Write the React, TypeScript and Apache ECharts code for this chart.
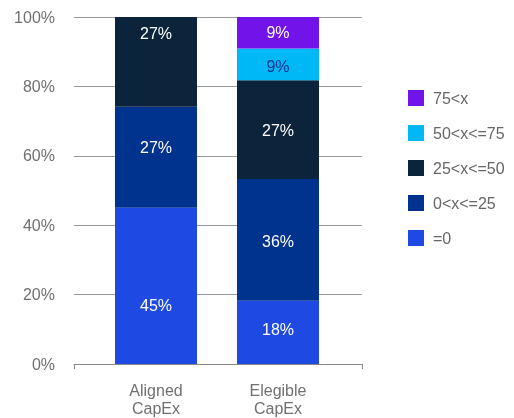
import React, { useEffect, useRef } from "react";
import * as echarts from "echarts";

const categories = ["Aligned\nCapEx", "Elegible\nCapEx"];
const seriesNames = ["=0", "0<x<=25", "25<x<=50", "50<x<=75", "75<x"];
const eq0 = [45.0, 18.2];
const le25 = [29.1, 35.1];
const le50 = [25.9, 28.5];
const le75 = [0, 9.1];
const gt75 = [0, 9.1];
const labelsEq0 = ["45%", "18%"];
const labelsLe25 = ["27%", "36%"];
const labelsLe50 = ["27%", "27%"];
const labelsLe75 = ["", "9%"];
const labelsGt75 = ["", "9%"];
const yTicks = [0, 20, 40, 60, 80, 100];

const colors = ["#1E49E2", "#00338D", "#0C233C", "#00B8F5", "#7213EA"];
const labelColors = ["#ffffff", "#ffffff", "#ffffff", "#00338D", "#ffffff"];
const labelShift = [
  [20, -3],
  [-10, 2],
  [-28, 1],
  [0, 2],
  [0, 0],
];

const FONT = "'Liberation Sans', Arial, Helvetica, sans-serif";

export default function App() {
  const ref = useRef<HTMLDivElement>(null);
  useEffect(() => {
    if (!ref.current) return;
    const chart = echarts.init(ref.current, null, { renderer: "svg" });
    const values = [eq0, le25, le50, le75, gt75];
    const labels = [labelsEq0, labelsLe25, labelsLe50, labelsLe75, labelsGt75];
    chart.setOption({
      animation: false,
      textStyle: { fontFamily: FONT },
      grid: [
        { left: 74, right: 152, top: 17, bottom: 54 },
        { left: 95, right: 175, top: 17, bottom: 54 },
      ],
      legend: {
        orient: "vertical",
        left: 408,
        top: 90,
        padding: 0,
        itemWidth: 16,
        itemHeight: 16,
        itemGap: 19,
        icon: "rect",
        data: [...seriesNames].reverse(),
        textStyle: {
          color: "#666",
          fontSize: 16,
          fontFamily: FONT,
          padding: [0, 0, 0, 4],
        },
      },
      xAxis: [
        {
          type: "category",
          gridIndex: 0,
          data: [""],
          axisLine: { show: true, lineStyle: { color: "#888", width: 1 } },
          axisTick: { show: true, length: 5, lineStyle: { color: "#888" } },
          axisLabel: { show: false },
          splitLine: { show: false },
        },
        {
          type: "category",
          gridIndex: 1,
          data: categories,
          axisLine: { show: false },
          axisTick: { show: false },
          axisLabel: {
            color: "#707070",
            fontSize: 16,
            lineHeight: 18,
            margin: 17,
            fontFamily: FONT,
          },
        },
      ],
      yAxis: [
        {
          type: "value",
          gridIndex: 0,
          min: yTicks[0],
          max: yTicks[yTicks.length - 1],
          interval: 20,
          axisLine: { show: false },
          axisTick: { show: false },
          axisLabel: {
            formatter: "{value}%",
            color: "#707070",
            fontSize: 16,
            margin: 19,
            fontFamily: FONT,
          },
          splitLine: { show: true, lineStyle: { color: "#999", width: 1 } },
        },
        {
          type: "value",
          gridIndex: 1,
          min: 0,
          max: 100,
          show: false,
          splitLine: { show: false },
        },
      ],
      series: seriesNames.map((name, s) => ({
        name,
        type: "bar",
        stack: "total",
        xAxisIndex: 1,
        yAxisIndex: 1,
        barWidth: 82,
        itemStyle: { color: colors[s] },
        label: {
          show: true,
          position: "inside",
          color: labelColors[s],
          fontSize: 16,
          fontFamily: FONT,
          textBorderWidth: 0,
        },
        data: values[s].map((v, i) => ({
          value: v,
          label: {
            formatter: labels[s][i],
            offset: [0, labelShift[s][i]],
            show: v > 0,
          },
        })),
      })),
    });
    return () => chart.dispose();
  }, []);
  return (
    <div
      ref={ref}
      style={{ position: "fixed", left: 0, top: 0, width: 514, height: 418 }}
    />
  );
}
